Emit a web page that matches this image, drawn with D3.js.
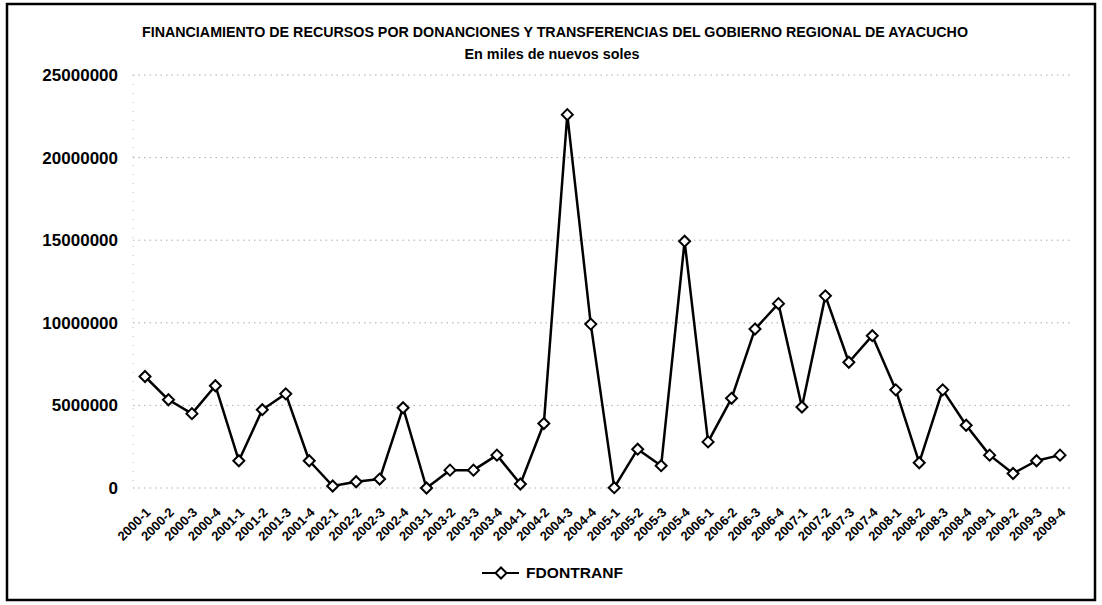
<!DOCTYPE html>
<html><head><meta charset="utf-8">
<script src="https://cdn.jsdelivr.net/npm/d3@7"></script>
<style>
html,body{margin:0;padding:0;background:#fff;}
svg text{font-family:"Liberation Sans",Arial,sans-serif;font-weight:bold;fill:#000;}
</style></head>
<body>
<svg id="c" width="1102" height="605"></svg>
<script>
const title = "FINANCIAMIENTO DE RECURSOS POR DONANCIONES Y TRANSFERENCIAS DEL GOBIERNO REGIONAL DE AYACUCHO";
const subtitle = "En miles de nuevos soles";
const seriesName = "FDONTRANF";
const categories = [
 "2000-1","2000-2","2000-3","2000-4","2001-1","2001-2","2001-3","2001-4",
 "2002-1","2002-2","2002-3","2002-4","2003-1","2003-2","2003-3","2003-4",
 "2004-1","2004-2","2004-3","2004-4","2005-1","2005-2","2005-3","2005-4",
 "2006-1","2006-2","2006-3","2006-4","2007-1","2007-2","2007-3","2007-4",
 "2008-1","2008-2","2008-3","2008-4","2009-1","2009-2","2009-3","2009-4"];
const values = [
 6750000,5340000,4500000,6190000,1650000,4740000,5700000,1650000,
 120000,380000,540000,4860000,0,1080000,1080000,1990000,
 240000,3900000,22600000,9920000,20000,2350000,1350000,14940000,
 2790000,5430000,9620000,11160000,4900000,11630000,7610000,9220000,
 5940000,1530000,5940000,3800000,1990000,880000,1650000,1990000];
const yTicks = [0,5000000,10000000,15000000,20000000,25000000];

const svg = d3.select("#c");
svg.append("rect").attr("x",7).attr("y",4).attr("width",1088).attr("height",596)
  .attr("fill","#fff").attr("stroke","#000").attr("stroke-width",2.5);

const x = d3.scalePoint().domain(categories).range([145,1060]);
const y = d3.scaleLinear().domain([0,25000000]).range([488,75]);

svg.append("g").selectAll("line").data(yTicks).join("line")
  .attr("x1",133).attr("x2",1073).attr("y1",d=>y(d)).attr("y2",d=>y(d))
  .attr("stroke","#aaa").attr("stroke-width",1).attr("stroke-dasharray","1.5,4");
svg.append("line").attr("x1",133).attr("x2",133).attr("y1",y(25000000)).attr("y2",y(0))
  .attr("stroke","#bbb").attr("stroke-dasharray","1,8");

const yAxis = d3.axisLeft(y).tickValues(yTicks).tickFormat(d3.format("d")).tickSize(0).tickPadding(0);
const ga = svg.append("g").attr("transform","translate(118,0)").call(yAxis);
ga.select(".domain").remove();
ga.selectAll("text").style("font-size","17px").attr("font-family","Liberation Sans, Arial, sans-serif").attr("font-weight","bold");

const xAxis = d3.axisBottom(x).tickSize(0).tickPadding(0);
const gx = svg.append("g").call(xAxis);
gx.select(".domain").remove();
gx.selectAll(".tick").attr("transform",d=>`translate(${x(d)+3},510)`);
gx.selectAll("text").attr("text-anchor","end").attr("dy","0.35em").attr("y",0)
  .attr("transform","rotate(-45)").style("font-size","13px")
  .attr("textLength",40).attr("lengthAdjust","spacingAndGlyphs")
  .attr("font-family","Liberation Sans, Arial, sans-serif").attr("font-weight","bold");

const line = d3.line().x((d,i)=>x(categories[i])).y(d=>y(d));
svg.append("path").datum(values).attr("d",line).attr("fill","none")
  .attr("stroke","#000").attr("stroke-width",2.5).attr("stroke-linejoin","round");

const diamond = "M0,-5.5L5.5,0L0,5.5L-5.5,0Z";
svg.append("g").selectAll("path").data(values).join("path")
  .attr("d",diamond).attr("transform",(d,i)=>`translate(${x(categories[i])},${y(d)})`)
  .attr("fill","#fff").attr("stroke","#000").attr("stroke-width",2);

svg.append("text").attr("x",555).attr("y",37).attr("text-anchor","middle")
  .attr("textLength",826).attr("lengthAdjust","spacingAndGlyphs")
  .style("font-size","14.5px").text(title);
svg.append("text").attr("x",552).attr("y",59).attr("text-anchor","middle")
  .attr("textLength",175).attr("lengthAdjust","spacingAndGlyphs")
  .style("font-size","15px").text(subtitle);

const lg = svg.append("g");
lg.append("line").attr("x1",482).attr("x2",519).attr("y1",573).attr("y2",573)
  .attr("stroke","#000").attr("stroke-width",2);
lg.append("path").attr("d",diamond).attr("transform","translate(501,573)")
  .attr("fill","#fff").attr("stroke","#000").attr("stroke-width",2);
lg.append("text").attr("x",526).attr("y",578).attr("textLength",97)
  .attr("lengthAdjust","spacingAndGlyphs").style("font-size","15px").text(seriesName);
</script>
</body></html>
